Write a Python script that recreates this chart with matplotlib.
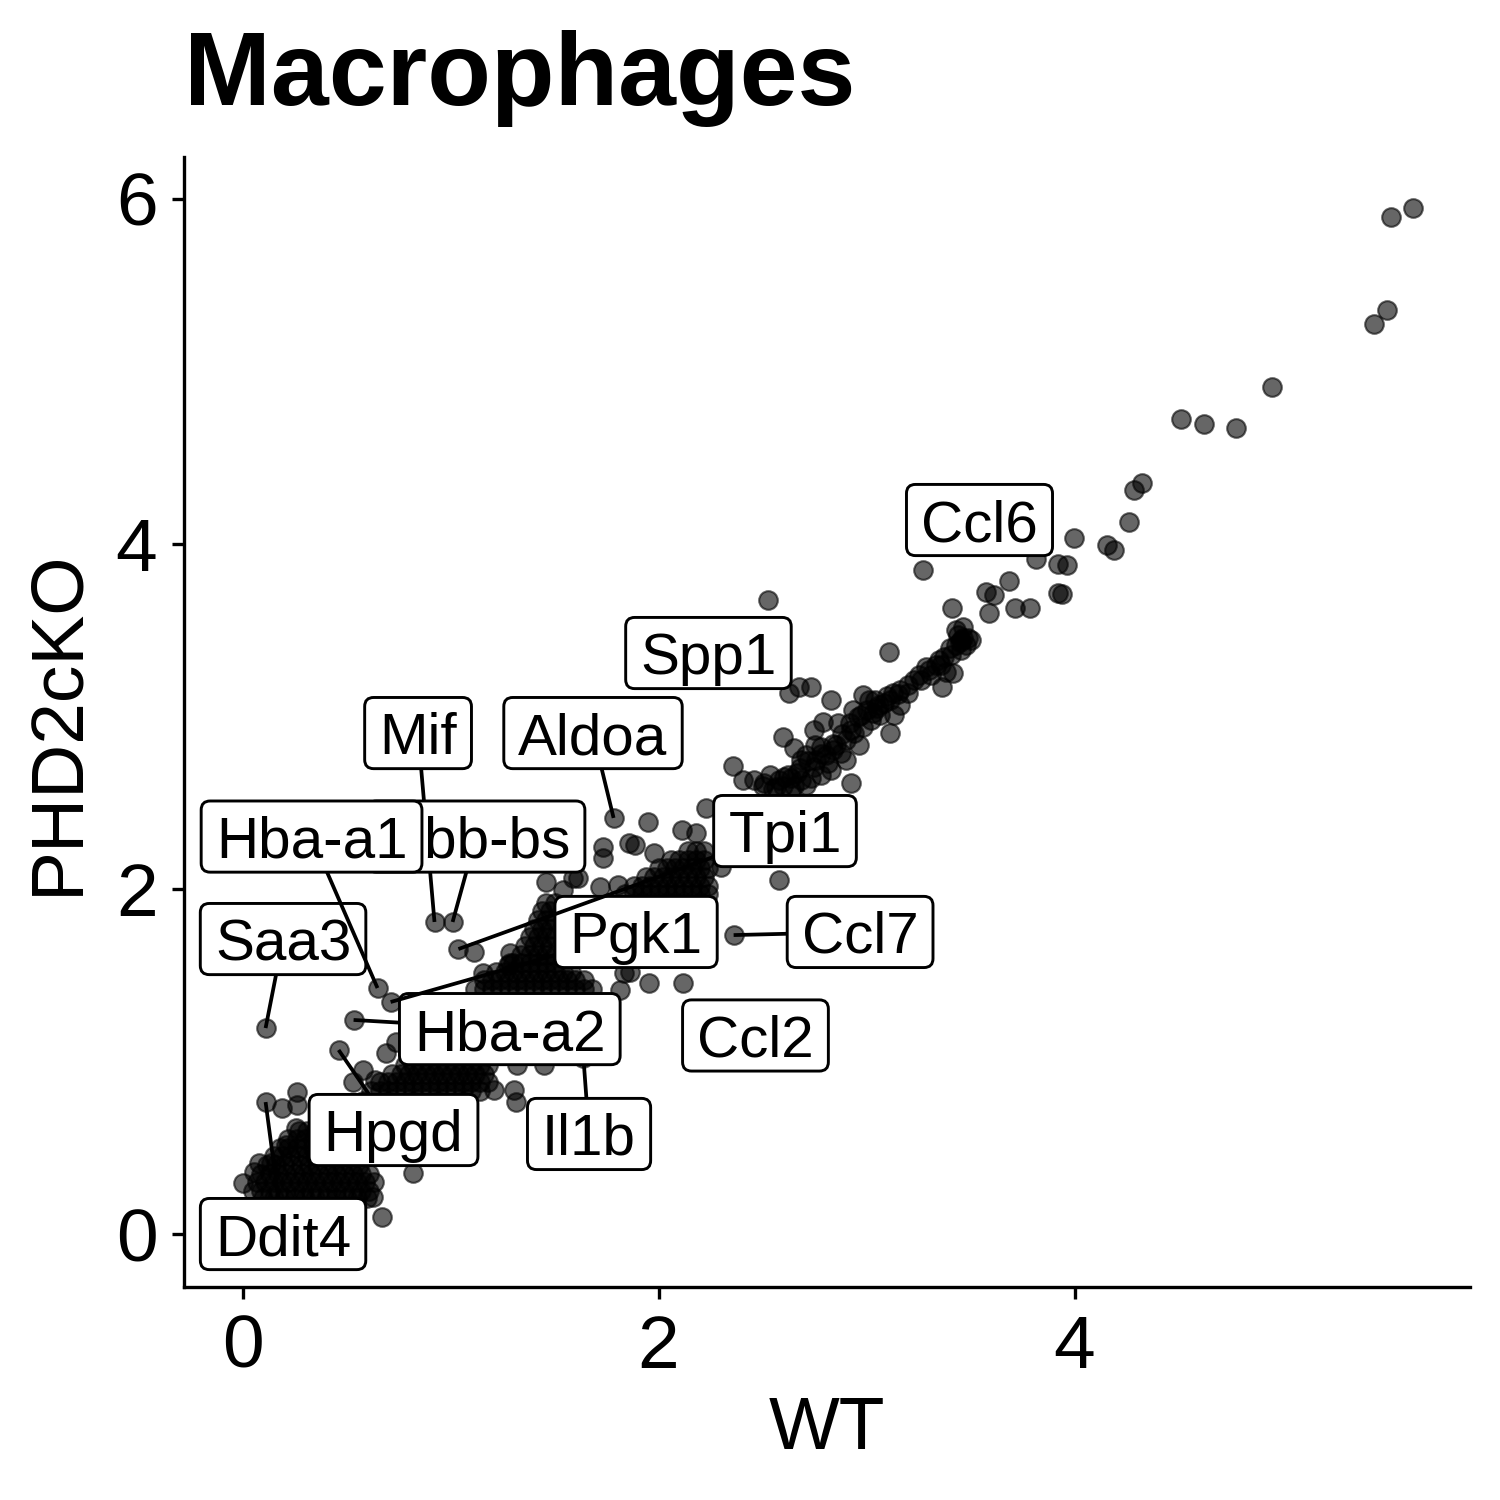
import matplotlib.pyplot as plt
from matplotlib.patches import FancyBboxPatch
from matplotlib.transforms import ScaledTranslation

plt.rcParams['font.family'] = ['Liberation Sans', 'DejaVu Sans']

# average expression per gene: WT (x) vs PHD2cKO (y)
# upper tail
wt = [5.625, 5.519, 5.500, 5.438, 4.947, 4.510, 4.620, 4.774, 4.322, 4.284, 4.264, 3.995, 4.154, 4.188,
      3.817, 3.918, 3.966, 3.683, 3.572, 3.611, 3.918, 3.938, 3.591, 3.712, 3.784, 3.409, 3.466, 3.106]
ko = [5.948, 5.896, 5.357, 5.275, 4.910, 4.725, 4.696, 4.672, 4.354, 4.313, 4.128, 4.035, 3.994, 3.965,
      3.913, 3.884, 3.878, 3.786, 3.722, 3.704, 3.716, 3.710, 3.600, 3.629, 3.629, 3.629, 3.519, 3.374]

# genes between 2.5 and 3.5
wt += [2.596, 2.649, 2.668, 2.601, 2.563, 2.635, 2.707, 2.745, 2.745, 2.793, 2.779, 2.813, 2.841, 2.861,
       2.875, 2.899, 2.923, 2.933, 2.938, 2.981, 2.981, 3.029, 3.082, 3.115, 3.130, 3.125, 3.197, 3.226,
       3.284, 3.365, 3.370, 3.418, 3.452, 2.827, 2.673, 2.731, 2.625, 2.707, 2.750, 2.683, 2.538, 2.962,
       3.010, 3.058, 3.163, 3.332, 3.428, 3.476, 3.442, 3.490, 3.452, 2.755, 2.803, 2.851, 2.899, 2.827,
       2.779, 2.731, 2.683, 2.635, 2.923, 2.971, 3.019, 3.067, 3.043, 3.115, 3.163, 3.260, 3.308, 3.356,
       3.404, 3.380, 3.462, 3.428, 3.500, 2.50, 2.55, 2.60, 2.65, 2.58,
       2.62, 2.68, 2.72, 2.78, 2.84, 2.88, 2.92, 2.96, 3.00, 3.05, 3.10, 3.15, 3.20, 3.25, 3.30, 3.35,
       3.40, 3.45]
ko += [2.881, 2.817, 2.672, 2.649, 2.591, 2.574, 2.603, 2.707, 2.922, 2.968, 2.823, 2.730, 2.806, 2.962,
       2.788, 2.864, 2.614, 3.038, 2.904, 3.125, 2.939, 3.020, 3.078, 2.904, 3.009, 3.136, 3.136, 3.212,
       3.287, 3.171, 3.345, 3.252, 3.443, 3.096, 3.171, 3.171, 3.136, 2.777, 2.835, 2.748, 2.661, 2.835,
       3.096, 3.067, 3.154, 3.299, 3.414, 3.414, 3.472, 3.455, 3.386, 2.748, 2.777, 2.835, 2.748, 2.690,
       2.661, 2.643, 2.632, 2.643, 2.922, 3.009, 2.980, 3.009, 3.096, 3.096, 3.067, 3.212, 3.241, 3.299,
       3.357, 3.258, 3.455, 3.501, 3.443, 2.60, 2.58, 2.60, 2.60, 2.63,
       2.66, 2.70, 2.74, 2.78, 2.84, 2.90, 2.96, 3.00, 3.04, 3.05, 3.12, 3.13, 3.18, 3.24, 3.27, 3.33,
       3.40, 3.43]

# scattered genes in the middle range
wt += [1.947, 1.731, 1.731, 1.856, 1.889, 2.115, 2.178, 2.226, 1.976, 1.611, 1.457, 2.577, 1.111, 1.952,
       1.832, 1.817, 1.865, 1.207, 1.303, 1.313, 0.822, 0.673, 0.625, 0.688, 0.736, 0.577, 0.529, 0.639,
       0.192, 0.264, 0.264, 0.255, 0.207, 0.000, 0.053, 0.077, 0.135, 2.356, 2.404, 2.457, 2.505, 2.298,
       1.543, 1.591, 1.721, 1.803, 1.288, 1.274, 1.154, 1.320, 1.450, 1.288]
ko += [2.388, 2.243, 2.180, 2.267, 2.255, 2.342, 2.325, 2.470, 2.209, 2.064, 2.041, 2.052, 1.635, 1.455,
       1.513, 1.414, 1.519, 0.835, 0.835, 0.765, 0.354, 0.099, 0.214, 1.049, 1.113, 0.951, 0.881, 0.893,
       0.730, 0.823, 0.748, 0.614, 0.516, 0.296, 0.359, 0.412, 0.412, 2.713, 2.632, 2.632, 2.614, 2.128,
       1.994, 2.064, 2.012, 2.023, 1.629, 1.559, 1.513, 0.980, 0.980, 1.571]

# low expressed genes (dense core)
wt += [0.10, 0.15, 0.20, 0.25, 0.30, 0.35, 0.40, 0.45, 0.50, 0.55, 0.60,
       0.05, 0.09, 0.13, 0.17, 0.21, 0.25, 0.29, 0.33, 0.37, 0.41, 0.45, 0.49, 0.53, 0.57, 0.61,
       0.07, 0.11, 0.15, 0.19, 0.23, 0.27, 0.31, 0.35, 0.39, 0.43, 0.47, 0.51, 0.55, 0.59, 0.63,
       0.09, 0.13, 0.17, 0.21, 0.25, 0.29, 0.33, 0.37, 0.41, 0.45, 0.49, 0.53, 0.57, 0.61,
       0.12, 0.16, 0.20, 0.24, 0.28, 0.32, 0.36, 0.40, 0.44, 0.48, 0.52, 0.56,
       0.15, 0.19, 0.23, 0.27, 0.31, 0.35, 0.39, 0.43, 0.47, 0.51,
       0.18, 0.22, 0.26, 0.30, 0.34, 0.38, 0.42,
       0.22, 0.26, 0.30, 0.34, 0.38,
       0.27, 0.31, 0.35,
       0.40, 0.50, 0.60, 0.70,
       0.50, 0.62, 0.74, 0.86, 0.98,
       0.58, 0.70, 0.82, 0.94, 1.06]
ko += [0.21, 0.21, 0.21, 0.21, 0.21, 0.21, 0.21, 0.21, 0.21, 0.21, 0.21,
       0.25, 0.25, 0.25, 0.25, 0.25, 0.25, 0.25, 0.25, 0.25, 0.25, 0.25, 0.25, 0.25, 0.25, 0.25,
       0.30, 0.30, 0.30, 0.30, 0.30, 0.30, 0.30, 0.30, 0.30, 0.30, 0.30, 0.30, 0.30, 0.30, 0.30,
       0.35, 0.35, 0.35, 0.35, 0.35, 0.35, 0.35, 0.35, 0.35, 0.35, 0.35, 0.35, 0.35, 0.35,
       0.40, 0.40, 0.40, 0.40, 0.40, 0.40, 0.40, 0.40, 0.40, 0.40, 0.40, 0.40,
       0.45, 0.45, 0.45, 0.45, 0.45, 0.45, 0.45, 0.45, 0.45, 0.45,
       0.50, 0.50, 0.50, 0.50, 0.50, 0.50, 0.50,
       0.55, 0.55, 0.55, 0.55, 0.55,
       0.60, 0.60, 0.60,
       0.65, 0.65, 0.65, 0.65,
       0.72, 0.72, 0.72, 0.72, 0.72,
       0.77, 0.77, 0.77, 0.77, 0.77]

# dense core around 1
wt += [0.62, 0.66, 0.70, 0.74, 0.78, 0.82, 0.86, 0.90, 0.94, 0.98, 1.02, 1.06, 1.10, 1.14,
       0.66, 0.70, 0.74, 0.78, 0.82, 0.86, 0.90, 0.94, 0.98, 1.02, 1.06, 1.10, 1.14, 1.18,
       0.72, 0.76, 0.80, 0.84, 0.88, 0.92, 0.96, 1.00, 1.04, 1.08, 1.12, 1.16,
       0.78, 0.82, 0.86, 0.90, 0.94, 0.98, 1.02, 1.06, 1.10, 1.14, 1.18,
       0.85, 0.95, 1.05, 1.15, 1.25,
       0.95, 1.05, 1.15, 1.25, 1.35,
       1.05, 1.15, 1.25, 1.35, 1.45,
       1.15, 1.25, 1.35, 1.45, 1.55]
ko += [0.83, 0.83, 0.83, 0.83, 0.83, 0.83, 0.83, 0.83, 0.83, 0.83, 0.83, 0.83, 0.83, 0.83,
       0.88, 0.88, 0.88, 0.88, 0.88, 0.88, 0.88, 0.88, 0.88, 0.88, 0.88, 0.88, 0.88, 0.88,
       0.93, 0.93, 0.93, 0.93, 0.93, 0.93, 0.93, 0.93, 0.93, 0.93, 0.93, 0.93,
       0.98, 0.98, 0.98, 0.98, 0.98, 0.98, 0.98, 0.98, 0.98, 0.98, 0.98,
       1.05, 1.05, 1.05, 1.05, 1.05,
       1.15, 1.15, 1.15, 1.15, 1.15,
       1.25, 1.25, 1.25, 1.25, 1.25,
       1.33, 1.33, 1.33, 1.33, 1.33]

# dense core around 1.5
wt += [1.12, 1.16, 1.20, 1.24, 1.28, 1.32, 1.36, 1.40, 1.44, 1.48, 1.52, 1.56, 1.60, 1.64, 1.68,
       1.16, 1.20, 1.24, 1.28, 1.32, 1.36, 1.40, 1.44, 1.48, 1.52, 1.56, 1.60, 1.64,
       1.22, 1.26, 1.30, 1.34, 1.38, 1.42, 1.46, 1.50, 1.54, 1.58,
       1.30, 1.34, 1.38, 1.42, 1.46, 1.50,
       1.34, 1.38, 1.42, 1.46, 1.50,
       1.36, 1.40, 1.44, 1.48,
       1.38, 1.42, 1.46, 1.50,
       1.40, 1.44, 1.48,
       1.42, 1.46, 1.50,
       1.44, 1.48,
       1.46, 1.50]
ko += [1.42, 1.42, 1.42, 1.42, 1.42, 1.42, 1.42, 1.42, 1.42, 1.42, 1.42, 1.42, 1.42, 1.42, 1.42,
       1.47, 1.47, 1.47, 1.47, 1.47, 1.47, 1.47, 1.47, 1.47, 1.47, 1.47, 1.47, 1.47,
       1.52, 1.52, 1.52, 1.52, 1.52, 1.52, 1.52, 1.52, 1.52, 1.52,
       1.57, 1.57, 1.57, 1.57, 1.57, 1.57,
       1.62, 1.62, 1.62, 1.62, 1.62,
       1.67, 1.67, 1.67, 1.67,
       1.72, 1.72, 1.72, 1.72,
       1.77, 1.77, 1.77,
       1.82, 1.82, 1.82,
       1.87, 1.87,
       1.92, 1.92]

# dense core around 2
wt += [1.84, 1.88, 1.92, 1.96, 2.00, 2.04, 2.08, 2.12, 2.16, 2.20, 2.24,
       1.88, 1.92, 1.96, 2.00, 2.04, 2.08, 2.12, 2.16, 2.20, 2.24,
       1.94, 1.98, 2.02, 2.06, 2.10, 2.14, 2.18, 2.22,
       2.00, 2.04, 2.08, 2.12, 2.16, 2.20, 2.24,
       2.06, 2.10, 2.14, 2.18, 2.22,
       2.14, 2.18, 2.22]
ko += [1.97, 1.97, 1.97, 1.97, 1.97, 1.97, 1.97, 1.97, 1.97, 1.97, 1.97,
       2.02, 2.02, 2.02, 2.02, 2.02, 2.02, 2.02, 2.02, 2.02, 2.02,
       2.07, 2.07, 2.07, 2.07, 2.07, 2.07, 2.07, 2.07,
       2.12, 2.12, 2.12, 2.12, 2.12, 2.12, 2.12,
       2.17, 2.17, 2.17, 2.17, 2.17,
       2.22, 2.22, 2.22]

# labelled genes, in drawing order
genes = ['Ccl6', 'Spp1', 'Ccl2', 'Ccl7', 'Il1b', 'Ddit4', 'Hpgd', 'Hba-a2',
         'Pgk1', 'Tpi1', 'Aldoa', 'Mif', 'Hbb-bs', 'Saa3', 'Hba-a1']
gene_wt = [3.269, 2.524, 2.120, 2.361, 1.639, 0.111, 0.462, 0.534,
           0.712, 1.038, 1.784, 0.923, 1.010, 0.111, 0.649]
gene_ko = [3.849, 3.675, 1.455, 1.733, 1.020, 0.765, 1.067, 1.241,
           1.345, 1.652, 2.412, 1.809, 1.809, 1.194, 1.426]
label_wt = [3.543, 2.240, 2.466, 2.969, 1.666, 0.195, 0.726, 1.285,
            1.892, 2.608, 1.685, 0.844, 1.123, 0.195, 0.332]
label_ko = [4.139, 3.368, 1.151, 1.751, 0.580, 0.000, 0.603, 1.188,
            1.751, 2.336, 2.904, 2.904, 2.304, 1.710, 2.304]
show_segment = [False, False, False, True, True, True, True, True,
                True, True, True, True, True, True, True]

DPI = 300
fig = plt.figure(figsize=(5, 5), dpi=DPI)
ax = fig.add_axes([0.1227, 0.142, 0.8573, 0.7533])

ax.scatter(wt + gene_wt, ko + gene_ko, s=20, c='black', alpha=0.6,
           edgecolors='black', linewidths=0.5, zorder=2)

ax.set_xlim(-0.281, 5.901)
ax.set_ylim(-0.307, 6.243)
ax.set_xticks([0, 2, 4])
ax.set_yticks([0, 2, 4, 6])
for s in ['top', 'right']:
    ax.spines[s].set_visible(False)
for s in ['left', 'bottom']:
    ax.spines[s].set_linewidth(0.8)
ax.tick_params(axis='both', labelsize=18, length=2.9, width=0.8, pad=3.5, colors='black')
ax.set_xlabel('WT', fontsize=18, labelpad=3)
ax.set_ylabel('PHD2cKO', fontsize=18, labelpad=5.5)

fig.text(0.1227, 0.93, 'Macrophages', fontsize=25, fontweight='bold',
         ha='left', va='baseline')

# gene labels with rounded boxes (ggrepel style)
fs = 14
pad_px = 3.5 * DPI / 72
cap_pt = 0.72 * fs
cap_px = cap_pt * DPI / 72
fig.canvas.draw()
renderer = fig.canvas.get_renderer()
inv = ax.transData.inverted()
px_x = ax.transData.transform((1, 0))[0] - ax.transData.transform((0, 0))[0]
px_y = ax.transData.transform((0, 1))[1] - ax.transData.transform((0, 0))[1]
radius = 9 / px_x

for i, name in enumerate(genes):
    z = 4 + 3 * i
    lx, ly = label_wt[i], label_ko[i]
    shift = ScaledTranslation(0, -cap_pt / 2 / 72, fig.dpi_scale_trans)
    t = ax.text(lx, ly, name, fontsize=fs, ha='center', va='baseline',
                transform=ax.transData + shift, zorder=z + 2)
    w = t.get_window_extent(renderer).width
    cx, cy = ax.transData.transform((lx, ly))
    (x0, y0), (x1, y1) = inv.transform([(cx - w / 2 - pad_px, cy - cap_px / 2 - pad_px),
                                         (cx + w / 2 + pad_px, cy + cap_px / 2 + pad_px)])
    box = FancyBboxPatch((x0, y0), x1 - x0, y1 - y0,
                         boxstyle='round,pad=0,rounding_size=%f' % radius,
                         mutation_aspect=px_x / px_y, fc='white', ec='black',
                         lw=0.7, zorder=z + 1)
    ax.add_patch(box)
    if show_segment[i]:
        ax.plot([gene_wt[i], lx], [gene_ko[i], ly], color='black', lw=0.9,
                solid_capstyle='butt', zorder=z)

fig.savefig('out.png', dpi=DPI)
